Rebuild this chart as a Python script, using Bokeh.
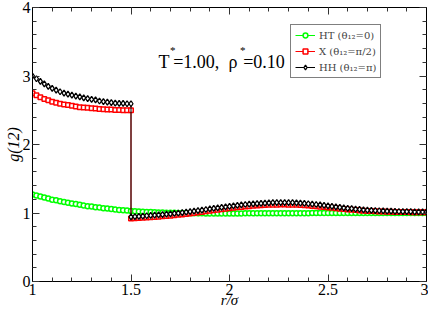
from bokeh.plotting import figure
from bokeh.models import (LinearAxis, SingleIntervalTicker, NumeralTickFormatter,
                          CustomJSTickFormatter, Legend, LegendItem, Label, Range1d)
from bokeh.embed import file_html
from bokeh.resources import INLINE

# ---------------- data ----------------
r_in = [1.00, 1.02, 1.04, 1.06, 1.08, 1.10, 1.12, 1.14, 1.16, 1.18, 1.20, 1.22, 1.24,
        1.26, 1.28, 1.30, 1.32, 1.34, 1.36, 1.38, 1.40, 1.42, 1.44, 1.46, 1.48, 1.50]
r_out = [1.50, 1.52, 1.54, 1.56, 1.58, 1.60, 1.62, 1.64, 1.66, 1.68, 1.70, 1.72, 1.74,
         1.76, 1.78, 1.80, 1.82, 1.84, 1.86, 1.88, 1.90, 1.92, 1.94, 1.96, 1.98, 2.00,
         2.02, 2.04, 2.06, 2.08, 2.10, 2.12, 2.14, 2.16, 2.18, 2.20, 2.22, 2.24, 2.26,
         2.28, 2.30, 2.32, 2.34, 2.36, 2.38, 2.40, 2.42, 2.44, 2.46, 2.48, 2.50, 2.52,
         2.54, 2.56, 2.58, 2.60, 2.62, 2.64, 2.66, 2.68, 2.70, 2.72, 2.74, 2.76, 2.78,
         2.80, 2.82, 2.84, 2.86, 2.88, 2.90, 2.92, 2.94, 2.96, 2.98, 3.00]

ht_in = [1.270, 1.255, 1.240, 1.225, 1.210, 1.195, 1.185, 1.170, 1.160, 1.150, 1.140,
         1.130, 1.120, 1.110, 1.100, 1.095, 1.085, 1.080, 1.070, 1.065, 1.060, 1.050,
         1.045, 1.040, 1.035, 1.030]
ht_out = [1.026, 1.022, 1.019, 1.016, 1.013, 1.011, 1.009, 1.007, 1.005, 1.003,
          1.002, 1.000, 0.999, 0.998, 0.997, 0.996, 0.995, 0.995, 0.994, 0.994,
          0.994, 0.994, 0.994, 0.994, 0.994, 0.994, 0.994, 0.994, 0.995, 0.995,
          0.995, 0.995, 0.996, 0.996, 0.996, 0.996, 0.997, 0.997, 0.997, 0.997,
          0.998, 0.998, 0.998, 0.998, 0.998, 0.999, 0.999, 0.999, 0.999, 0.999,
          0.999, 0.999, 0.999, 0.999, 0.999, 1.000, 1.000, 1.000, 1.000, 1.000,
          1.000, 1.000, 1.000, 1.000, 1.000, 1.000, 1.000, 1.000, 1.000, 1.000,
          1.000, 1.000, 1.000, 1.000, 1.000]

x_in = [2.750, 2.720, 2.690, 2.665, 2.645, 2.625, 2.610, 2.595, 2.585, 2.575, 2.565,
        2.555, 2.545, 2.540, 2.535, 2.530, 2.525, 2.520, 2.515, 2.510, 2.510, 2.505,
        2.505, 2.500, 2.500, 2.500]
x_out = [0.920, 0.923, 0.927, 0.930, 0.934, 0.938, 0.942, 0.946, 0.951, 0.956, 0.961,
         0.967, 0.973, 0.979, 0.986, 0.993, 1.000, 1.008, 1.016, 1.024, 1.032, 1.040,
         1.047, 1.055, 1.062, 1.069, 1.076, 1.083, 1.089, 1.095, 1.100, 1.105, 1.109,
         1.113, 1.116, 1.119, 1.121, 1.122, 1.123, 1.123, 1.122, 1.121, 1.119, 1.116,
         1.113, 1.109, 1.104, 1.099, 1.093, 1.087, 1.081, 1.075, 1.069, 1.063, 1.057,
         1.052, 1.047, 1.042, 1.038, 1.034, 1.031, 1.028, 1.025, 1.023, 1.021, 1.019,
         1.017, 1.016, 1.015, 1.014, 1.013, 1.012, 1.011, 1.011, 1.010, 1.010]

hh_in = [3.000, 2.960, 2.920, 2.885, 2.850, 2.820, 2.795, 2.770, 2.750, 2.735, 2.720,
         2.705, 2.695, 2.680, 2.670, 2.660, 2.650, 2.635, 2.625, 2.620, 2.610, 2.605,
         2.600, 2.600, 2.595, 2.595]
hh_out = [0.945, 0.948, 0.952, 0.955, 0.960, 0.964, 0.968, 0.972, 0.977, 0.982, 0.987,
          0.993, 0.999, 1.005, 1.012, 1.019, 1.027, 1.035, 1.043, 1.051, 1.059, 1.067,
          1.075, 1.083, 1.091, 1.098, 1.105, 1.112, 1.118, 1.124, 1.129, 1.134, 1.138,
          1.142, 1.145, 1.148, 1.150, 1.151, 1.152, 1.152, 1.151, 1.150, 1.147, 1.144,
          1.140, 1.135, 1.130, 1.124, 1.117, 1.110, 1.103, 1.096, 1.089, 1.082, 1.075,
          1.069, 1.063, 1.057, 1.052, 1.047, 1.043, 1.039, 1.036, 1.033, 1.030, 1.028,
          1.026, 1.024, 1.022, 1.021, 1.020, 1.019, 1.018, 1.017, 1.016, 1.015]

labels = ["HT (θ₁₂=0)", "X (θ₁₂=π/2)", "HH (θ₁₂=π)"]

r_ht = r_in + r_out[1:]
g_ht = ht_in + ht_out
r_full = r_in + r_out
g_x = x_in + x_out
g_hh = hh_in + hh_out

FONT = "'Liberation Serif', 'Times New Roman', serif"
TNR = "Times New Roman"

p = figure(width=428, height=310, output_backend="svg", toolbar_location=None,
           x_range=Range1d(1, 3), y_range=Range1d(0, 4),
           min_border_left=32, min_border_right=2, min_border_top=7, min_border_bottom=25)
p.xgrid.visible = False
p.ygrid.visible = False
p.outline_line_color = "black"
p.outline_line_width = 1

xt = SingleIntervalTicker(interval=0.5, num_minor_ticks=5)
yt = SingleIntervalTicker(interval=1, num_minor_ticks=5)

p.xaxis.ticker = xt
p.yaxis.ticker = yt
p.xaxis.formatter = NumeralTickFormatter(format="0.[0]")
for ax in (p.xaxis[0], p.yaxis[0]):
    ax.major_label_text_font = FONT
    ax.major_label_text_font_size = "16px"
    ax.major_label_text_color = "black"
    ax.major_tick_in = 7
    ax.major_tick_out = 0
    ax.minor_tick_in = 4
    ax.minor_tick_out = 0
    ax.axis_line_color = "black"
    ax.major_tick_line_color = "#333333"
    ax.minor_tick_line_color = "#333333"
    ax.axis_label_text_font = TNR
    ax.axis_label_text_font_style = "italic"
    ax.axis_label_text_color = "black"
p.xaxis.axis_label_text_font_size = "15px"
p.yaxis.axis_label_text_font_size = "16px"
p.xaxis.major_label_standoff = 2
p.yaxis.major_label_standoff = 2
p.xaxis.axis_label = "r/σ"
p.yaxis.axis_label = "g(12)"
p.xaxis.axis_label_standoff = -6
p.yaxis.axis_label_standoff = -2

blank = CustomJSTickFormatter(code="return ''")
for loc, tk in (("above", xt), ("right", yt)):
    ax = LinearAxis(ticker=tk, formatter=blank, major_label_standoff=0,
                    major_tick_in=7, major_tick_out=0, minor_tick_in=4, minor_tick_out=0,
                    axis_line_color="black", major_tick_line_color="#333333",
                    minor_tick_line_color="#333333")
    p.add_layout(ax, loc)

l_ht = p.line(r_ht, g_ht, line_color="#00ff00", line_width=1)
s_ht = p.scatter(r_ht, g_ht, marker="circle", size=5, line_color="#00ff00",
                 fill_color="white", line_width=1.5)
l_x = p.line(r_full, g_x, line_color="#ff0000", line_width=1)
s_x = p.scatter(r_full, g_x, marker="square", size=4.5, line_color="#ff0000",
                fill_color="white", line_width=1.5)
l_hh = p.line(r_full, g_hh, line_color="black", line_width=1)
s_hh = p.scatter(r_full, g_hh, marker="diamond", size=6, line_color="black",
                 fill_color="white", line_width=1.3)

rends = [[l_ht, s_ht], [l_x, s_x], [l_hh, s_hh]]
legend = Legend(items=[LegendItem(label=lab, renderers=rr) for lab, rr in zip(labels, rends)],
                location=(258, 203), border_line_color="black", border_line_width=1,
                background_fill_color="white", background_fill_alpha=1,
                label_text_font="DejaVu Serif", label_text_font_size="10px",
                glyph_width=20, glyph_height=12, label_height=12, spacing=4,
                padding=4, margin=0, label_standoff=4)
p.add_layout(legend)

ax0, ay0 = 1.64, 3.21
pieces = [("T", 0, 0, "18px"), ("*", 11.3, 12, "11px"), ("=1.00,", 14.6, 0, "18px"),
          ("ρ", 70, 0, "18px"), ("*", 81.3, 12, "11px"), ("=0.10", 84.6, 0, "18px")]
for txt, dx, dy, fs in pieces:
    p.add_layout(Label(x=ax0, y=ay0, x_offset=dx, y_offset=dy, text=txt,
                       text_font=FONT, text_font_size=fs, text_color="black",
                       text_baseline="alphabetic", text_align="left"))

open("out.html", "w").write(file_html(p, INLINE))
